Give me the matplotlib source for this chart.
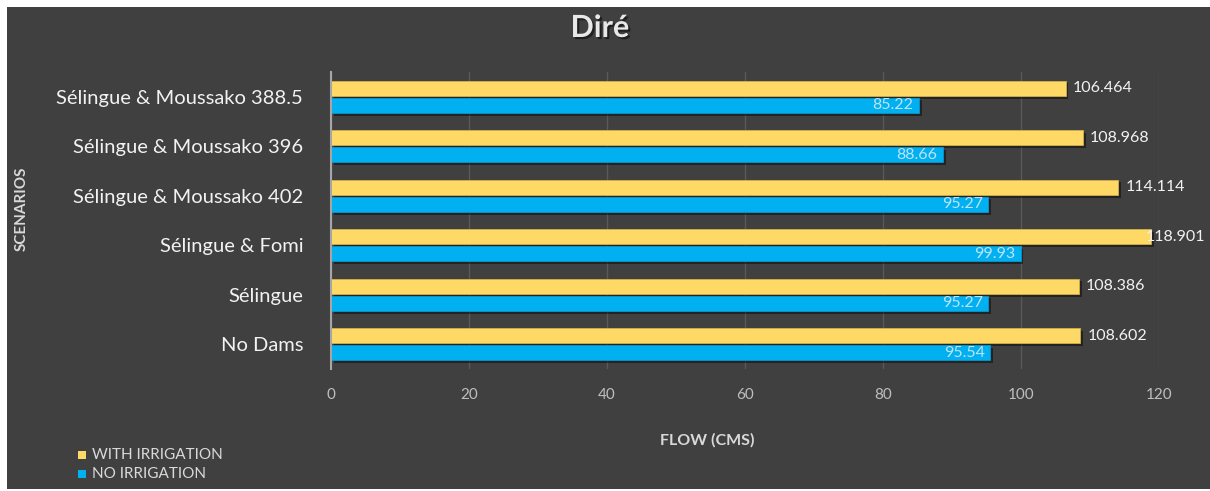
import matplotlib
matplotlib.use("Agg")
import matplotlib.pyplot as plt
import matplotlib.patheffects as pe
from matplotlib.patches import Rectangle
import numpy as np

plt.rcParams['font.family'] = ['Lato', 'DejaVu Sans']

scenarios = ["No Dams", "Sélingue", "Sélingue & Fomi", "Sélingue & Moussako 402",
             "Sélingue & Moussako 396", "Sélingue & Moussako 388.5"]
with_irrigation = [108.602, 108.386, 118.901, 114.114, 108.968, 106.464]
no_irrigation = [95.54, 95.27, 99.93, 95.27, 88.66, 85.22]
x_ticks = [0, 20, 40, 60, 80, 100, 120]

BG = "#404040"
YELLOW = "#FFD966"
BLUE = "#00B0F0"
TEXT = "#F2F2F2"
TICK = "#BFBFBF"
GRID = "#595959"

W, H = 1210, 491
fig = plt.figure(figsize=(W / 100, H / 100), dpi=100, facecolor="white")
# dark chart area with a thin white margin
fig.patches.append(Rectangle((7 / W, 2 / H), 1 - 7 / W, 1 - 9 / H,
                             transform=fig.transFigure, facecolor=BG,
                             edgecolor="none", zorder=-10))

ax = fig.add_axes([331 / W, 1 - 369 / H, (1159 - 331) / W, (369 - 72) / H])
ax.set_facecolor(BG)

y = np.arange(len(scenarios))
h = 0.31
off = 0.172
shadow = [pe.SimplePatchShadow(offset=(2, -2), shadow_rgbFace="black", alpha=0.45), pe.Normal()]

bars_w = ax.barh(y + off, with_irrigation, height=h, color=YELLOW,
                 edgecolor="#D4B04A", linewidth=0.6, zorder=3)
bars_n = ax.barh(y - off, no_irrigation, height=h, color=BLUE,
                 edgecolor="#0A97CC", linewidth=0.6, zorder=3)
for b in list(bars_w) + list(bars_n):
    b.set_path_effects(shadow)

# labels that would run off the chart are pulled back inside it
for yi, v in zip(y, with_irrigation):
    xpos = min(v, 117.0)
    ax.annotate(f"{v:.3f}", (xpos, yi + off),
                xytext=(5, 0), textcoords="offset points",
                va="center", ha="left", color=TEXT, fontsize=11.5, zorder=5,
                annotation_clip=False)
for yi, v in zip(y, no_irrigation):
    ax.annotate(f"{v:.2f}", (v, yi - off), xytext=(-4, 0), textcoords="offset points",
                va="center", ha="right", color="#BDE3F5", fontsize=11.5, zorder=5)

ax.set_xlim(0, 120)
ax.set_ylim(-0.5, len(scenarios) - 0.5)
ax.set_xticks(x_ticks)
ax.set_xticklabels([str(t) for t in x_ticks], color=TICK, fontsize=11)
ax.set_yticks(y)
ax.set_yticklabels(scenarios, color=TEXT, fontsize=14.5)
ax.tick_params(axis="both", length=0)
ax.tick_params(axis="x", pad=14)
ax.tick_params(axis="y", pad=20)
ax.grid(axis="x", color=GRID, linewidth=1, zorder=0)
for s in ["top", "right", "bottom"]:
    ax.spines[s].set_visible(False)
ax.spines["left"].set_color("#A6A6A6")
ax.spines["left"].set_linewidth(1.5)
ax.spines["left"].set_zorder(4)

fig.text(600 / W, 1 - 28 / H, "Diré", ha="center", va="center", color="#E8E8E8",
         fontsize=22, fontweight="bold",
         path_effects=[pe.withSimplePatchShadow(offset=(1.5, -1.5), shadow_rgbFace="black", alpha=0.5)])
fig.text(22 / W, 1 - 209 / H, "SCENARIOS", rotation=90, ha="center", va="center",
         color="#D9D9D9", fontsize=11, fontweight="bold")
fig.text(707 / W, 1 - 440 / H, "FLOW (CMS)", ha="center", va="center",
         color="#D9D9D9", fontsize=11.5, fontweight="bold")

# legend
for yy, col, lab in [(455, YELLOW, "WITH IRRIGATION"), (474, BLUE, "NO IRRIGATION")]:
    fig.patches.append(Rectangle((78 / W, 1 - (yy + 4) / H), 8 / W, 8 / H,
                                 transform=fig.transFigure, facecolor=col,
                                 edgecolor="none"))
    fig.text(92 / W, 1 - yy / H, lab, ha="left", va="center", color="#D9D9D9", fontsize=11)

fig.savefig("out.png", dpi=100, facecolor="white")
